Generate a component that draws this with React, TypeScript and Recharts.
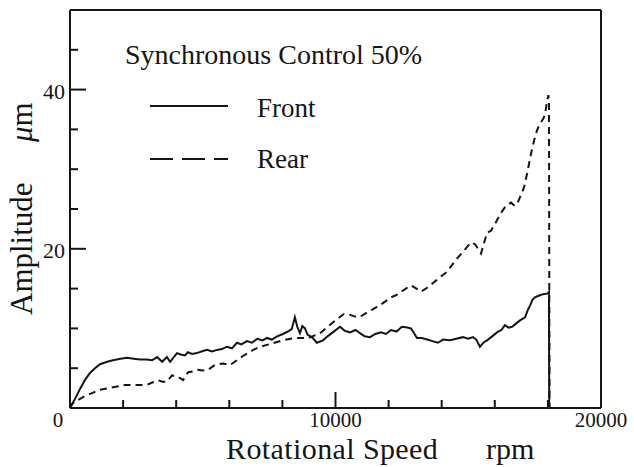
import { LineChart, Line, XAxis, YAxis, Legend, Label } from "recharts";

// Front (solid) — rpm / amplitude in µm
const frontRpm = [
  0, 150, 377, 560, 753, 940, 1130, 1400, 1620, 1900, 2150, 2400, 2640, 2900, 3090, 3280,
  3470, 3650, 3770, 4030, 4200, 4330, 4440, 4600, 4780, 4950, 5160, 5350, 5540, 5720, 5910,
  6100, 6290, 6450, 6670, 6850, 7050, 7250, 7420, 7600, 7800, 8020, 8200, 8350, 8470, 8560,
  8660, 8750, 8850, 8950, 9110, 9300, 9530, 9700, 9900, 10170, 10350, 10550, 10750, 10920,
  11100, 11300, 11500, 11710, 11900, 12090, 12300, 12500, 12700, 12840, 12960, 13070, 13250,
  13450, 13650, 13860, 14050, 14310, 14550, 14800, 15000, 15180, 15300, 15440, 15600, 15710,
  15900, 16080, 16250, 16380, 16520, 16650, 16800, 16950, 17140, 17230, 17330, 17420, 17510,
  17650, 17820, 18000, 18040, 18050,
];
const frontAmp = [
  0, 0.9, 2.4, 3.5, 4.4, 5.0, 5.5, 5.8, 6.0, 6.2, 6.3, 6.2, 6.1, 6.1, 6.0, 6.4,
  5.8, 6.4, 5.8, 6.9, 6.7, 6.6, 7.0, 6.8, 6.9, 7.1, 7.3, 7.1, 7.3, 7.4, 7.7,
  7.5, 8.2, 8.0, 8.4, 8.2, 8.7, 8.5, 8.8, 8.6, 9.0, 9.3, 9.6, 9.9, 11.4, 10.2,
  9.4, 10.3, 10.0, 9.2, 8.9, 8.2, 8.5, 9.0, 9.5, 10.2, 9.7, 9.5, 9.8, 9.4,
  9.0, 8.9, 9.3, 9.5, 9.3, 9.8, 9.6, 10.2, 10.1, 10.0, 9.4, 8.8, 8.8,
  8.6, 8.4, 8.2, 8.6, 8.5, 8.7, 8.9, 8.7, 8.9, 8.6, 7.7, 8.3, 8.5,
  9.0, 9.5, 9.8, 10.4, 10.1, 10.2, 10.6, 11.0, 11.4, 12.2, 12.9, 13.6, 13.9,
  14.1, 14.3, 14.4, 14.6, 0,
];

// Rear (dashed)
const rearRpm = [
  0, 75, 300, 565, 850, 1130, 1450, 1770, 2070, 2370, 2650, 2900, 3100, 3310, 3480, 3650,
  3840, 4070, 4260, 4450, 4620, 4780, 5000, 5200, 5460, 5760, 6030, 6290, 6500, 6700, 6900,
  7160, 7500, 8000, 8500, 9000, 9420, 9700, 10000, 10320, 10550, 10810, 11000, 11190, 11400,
  11560, 11800, 12090, 12300, 12470, 12650, 12840, 13050, 13220, 13450, 13670, 13820, 14000,
  14200, 14400, 14580, 14800, 14950, 15100, 15250, 15330, 15480, 15600, 15710, 15860, 16050,
  16230, 16400, 16610, 16750, 16840, 16950, 17100, 17200, 17290, 17380, 17480, 17580, 17670,
  17760, 17850, 17920, 17970, 18020, 18040, 18060,
];
const rearAmp = [
  0, 0.5, 1.0, 1.5, 1.9, 2.3, 2.5, 2.7, 2.9, 2.9, 2.9, 2.9, 3.2, 3.5, 3.3, 3.3,
  4.1, 3.9, 3.5, 4.5, 4.6, 4.8, 4.7, 4.8, 5.4, 5.6, 5.4, 6.0, 6.5, 6.9, 7.3,
  7.7, 8.0, 8.5, 8.8, 8.8, 9.4, 10.2, 11.0, 11.8, 11.7, 11.4, 11.6, 12.0, 12.4,
  12.7, 13.2, 13.9, 14.2, 14.6, 15.0, 15.4, 15.0, 14.6, 15.1, 15.7, 16.1, 16.6,
  17.1, 18.0, 18.8, 19.6, 20.2, 20.8, 20.6, 20.2, 19.4, 20.8, 22.0, 22.3, 23.4,
  24.5, 25.3, 25.8, 25.4, 25.6, 26.5, 27.7, 29.2, 30.7, 32.2, 33.6, 34.8, 35.5,
  36.0, 36.5, 37.5, 38.6, 39.3, 38.5, 0,
];

const xTicks = [0, 2000, 4000, 6000, 8000, 10000, 12000, 14000, 16000, 18000, 20000];
const xLabels = [0, 10000, 20000];
const yTicks = [0, 5, 10, 15, 20, 25, 30, 35, 40, 45, 50];
const yLabels = [20, 40];

const frontData = frontRpm.map((rpm, i) => ({ rpm, amp: frontAmp[i] }));
const rearData = rearRpm.map((rpm, i) => ({ rpm, amp: rearAmp[i] }));

const INK = "#151515";
const FONT = '"Liberation Serif", "DejaVu Serif", serif';
const serif = (size: number) => ({ fontFamily: FONT, fontSize: size });

function BottomTick({ x, y, payload }: any) {
  const v = payload.value;
  const major = v % 10000 === 0;
  return (
    <g>
      <line x1={x} y1={y} x2={x} y2={y - (major ? 16 : 8)} stroke={INK} strokeWidth={2} />
      {xLabels.includes(v) && (
        <text x={v === 0 ? x - 12 : x} y={y + 19} textAnchor="middle" style={serif(21)} fill={INK}>
          {v}
        </text>
      )}
    </g>
  );
}

function TopTick({ x, y, payload }: any) {
  const major = payload.value % 10000 === 0;
  return <line x1={x} y1={y} x2={x} y2={y + (major ? 16 : 8)} stroke={INK} strokeWidth={2} />;
}

function LeftTick({ x, y, payload }: any) {
  const v = payload.value;
  const major = v % 20 === 0;
  return (
    <g>
      <line x1={x} y1={y} x2={x + (major ? 16 : 8)} y2={y} stroke={INK} strokeWidth={2} />
      {yLabels.includes(v) && (
        <text x={x - 5} y={y + 9} textAnchor="end" style={serif(22)} fill={INK}>
          {v}
        </text>
      )}
    </g>
  );
}

function RightTick({ x, y, payload }: any) {
  const major = payload.value % 20 === 0;
  return <line x1={x} y1={y} x2={x - (major ? 16 : 8)} y2={y} stroke={INK} strokeWidth={2} />;
}

function KeyBox() {
  return (
    <svg width={440} height={180} style={{ display: "block" }}>
      <text x={125} y={64} style={serif(28)} fill={INK}>
        Synchronous Control 50%
      </text>
      <line x1={150} y1={106} x2={228} y2={106} stroke={INK} strokeWidth={2} />
      <text x={257} y={117} style={serif(27)} fill={INK}>
        Front
      </text>
      <line x1={150} y1={159} x2={228} y2={159} stroke={INK} strokeWidth={2} strokeDasharray="23 9" />
      <text x={257} y={168} style={serif(27)} fill={INK}>
        Rear
      </text>
    </svg>
  );
}

export default function App() {
  return (
    <div style={{ position: "absolute", left: 0, top: 0, background: "#fff" }}>
      <LineChart width={634} height={467} margin={{ top: 9, right: 32, bottom: 0, left: 0 }}>
        <XAxis
          xAxisId="b"
          type="number"
          dataKey="rpm"
          domain={[0, 20000]}
          ticks={xTicks}
          interval={0}
          height={59}
          tickSize={0}
          tickMargin={0}
          tickLine={false}
          axisLine={{ stroke: INK, strokeWidth: 2 }}
          tick={<BottomTick />}
        >
          <Label
            content={() => (
              <g style={serif(30)} fill={INK}>
                <text x={226} y={459} letterSpacing={0.4}>Rotational Speed</text>
                <text x={486} y={459}>rpm</text>
              </g>
            )}
          />
        </XAxis>
        <XAxis
          xAxisId="t"
          orientation="top"
          type="number"
          dataKey="rpm"
          domain={[0, 20000]}
          ticks={xTicks}
          interval={0}
          height={1}
          tickSize={0}
          tickMargin={0}
          tickLine={false}
          axisLine={{ stroke: INK, strokeWidth: 2 }}
          tick={<TopTick />}
        />
        <YAxis
          yAxisId="l"
          type="number"
          domain={[0, 50]}
          ticks={yTicks}
          interval={0}
          width={70}
          tickSize={0}
          tickMargin={0}
          tickLine={false}
          axisLine={{ stroke: INK, strokeWidth: 2 }}
          tick={<LeftTick />}
        >
          <Label
            content={() => (
              <g style={serif(31)} fill={INK}>
                <text x={32} y={315} transform="rotate(-90 32 315)">Amplitude</text>
                <text x={32} y={142} transform="rotate(-90 32 142)">
                  <tspan fontStyle="italic">μ</tspan>m
                </text>
              </g>
            )}
          />
        </YAxis>
        <YAxis
          yAxisId="r"
          orientation="right"
          type="number"
          domain={[0, 50]}
          ticks={yTicks}
          interval={0}
          width={1}
          tickSize={0}
          tickMargin={0}
          tickLine={false}
          axisLine={{ stroke: INK, strokeWidth: 2 }}
          tick={<RightTick />}
        />
        <Legend
          layout="horizontal"
          verticalAlign="middle"
          align="center"
          wrapperStyle={{ top: 0, left: 0, width: 440, pointerEvents: "none" }}
          content={() => <KeyBox />}
        />
        <Line
          xAxisId="b"
          yAxisId="l"
          data={frontData}
          dataKey="amp"
          type="linear"
          stroke={INK}
          strokeWidth={2}
          dot={false}
          isAnimationActive={false}
        />
        <Line
          xAxisId="b"
          yAxisId="l"
          data={rearData}
          dataKey="amp"
          type="linear"
          stroke={INK}
          strokeWidth={2}
          strokeDasharray="7 5"
          dot={false}
          isAnimationActive={false}
        />
      </LineChart>
    </div>
  );
}
